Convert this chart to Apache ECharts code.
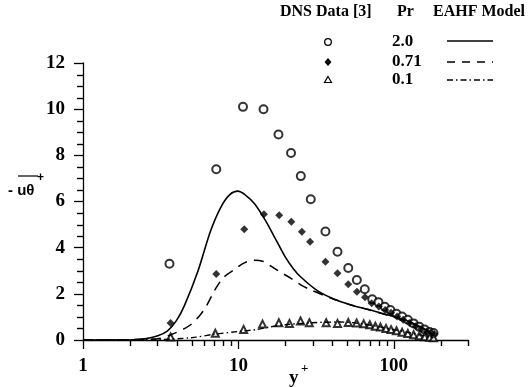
<!DOCTYPE html>
<html>
<head>
<meta charset="utf-8">
<script src="https://cdn.jsdelivr.net/npm/echarts@6/dist/echarts.min.js"></script>
<style>
  html, body { margin: 0; padding: 0; background: #fff; }
  #main { width: 529px; height: 387px; }
</style>
</head>
<body>
<div id="main"></div>
<script>
// DNS data [3], [y+, -uθ+]
var dnsPr20 = [[3.6, 3.3], [7.2, 7.4], [10.7, 10.1], [14.5, 10.0], [18.1, 8.9], [21.8, 8.1], [25.2, 7.1],
    [29.2, 6.1], [36.3, 4.7], [43.4, 3.82], [50.9, 3.12], [57.8, 2.6], [65, 2.2], [72.6, 1.76], [79.6, 1.64],
    [87.5, 1.44], [95, 1.3], [104, 1.14], [113, 1.02], [123, 0.88], [134, 0.72], [146, 0.57], [158, 0.45],
    [170, 0.35], [180, 0.3]];
var dnsPr071 = [[3.66, 0.74], [7.2, 2.86], [10.9, 4.8], [14.6, 5.45], [18.3, 5.4], [21.9, 5.12], [25.6, 4.69],
    [28.9, 4.26], [36.3, 3.39], [43.4, 2.89], [50.9, 2.41], [57.9, 2.09], [65.2, 1.85], [72, 1.59], [80, 1.45],
    [88, 1.3], [96, 1.18], [105, 1.02], [115, 0.88], [126, 0.74], [138, 0.6], [150, 0.48], [163, 0.37],
    [175, 0.3], [182, 0.26]];
var dnsPr01 = [[3.66, 0.13], [7.1, 0.29], [10.8, 0.46], [14.3, 0.69], [18.2, 0.75], [21.3, 0.72], [25.1, 0.82],
    [28.6, 0.75], [36.7, 0.75], [43.4, 0.72], [50.9, 0.76], [57.6, 0.74], [64, 0.7], [70, 0.66], [76, 0.6],
    [82, 0.56], [89, 0.5], [96, 0.45], [104, 0.4], [113, 0.34], [123, 0.28], [134, 0.23], [146, 0.18],
    [158, 0.14], [170, 0.12], [180, 0.1]];

// EAHF model curves
var modelPr20 = [[1, 0], [2, 0], [2.5, 0.05], [3, 0.17], [3.5, 0.4], [4, 0.85], [4.5, 1.5], [5.5, 3.0],
    [6.6, 4.7], [7.7, 5.75], [8.8, 6.3], [9.9, 6.45], [11, 6.3], [12.7, 5.9], [15, 5.15], [17.1, 4.45],
    [20, 3.6], [22.5, 3.1], [25, 2.75], [32, 2.15], [41, 1.78], [53, 1.52], [68, 1.33], [88, 1.12], [112, 0.92],
    [140, 0.65], [165, 0.4], [180, 0.2]];
var modelPr071 = [[1, 0], [3, 0.05], [3.66, 0.22], [4.9, 0.65], [6, 1.3], [7.1, 2.2], [8, 2.7], [9.4, 3.05],
    [11, 3.35], [12.7, 3.46], [14.5, 3.4], [16.2, 3.2], [18, 3.0], [21.8, 2.67], [25, 2.4], [29.4, 2.16],
    [40, 1.8], [53, 1.52], [68, 1.32], [88, 1.1], [112, 0.9], [140, 0.62], [165, 0.38], [180, 0.2]];
var modelPr01 = [[1, 0], [3, 0.02], [5, 0.1], [7, 0.25], [10, 0.37], [13, 0.45], [16, 0.57], [20, 0.66],
    [30, 0.75], [45, 0.78], [60, 0.72], [80, 0.58], [100, 0.45], [130, 0.3], [160, 0.17], [180, 0.1]];

var prLabels = ['2.0', '0.71', '0.1'];
var xMinorTicks = [2, 3, 4, 5, 6, 7, 8, 9, 20, 30, 40, 50, 60, 70, 80, 90, 200, 300];
var yMinorTicks = [0.5, 1, 1.5, 2.5, 3, 3.5, 4.5, 5, 5.5, 6.5, 7, 7.5, 8.5, 9, 9.5, 10.5, 11, 11.5];

var serif = 'Liberation Serif';
var myChart = echarts.init(document.getElementById('main'));

var option = {
    backgroundColor: '#fff',
    animation: false,
    grid: { left: 83, right: 61, top: 63, bottom: 47 },
    xAxis: {
        type: 'log',
        logBase: 10,
        min: 1,
        max: 300,
        axisLine: { lineStyle: { color: '#000', width: 1.3 } },
        axisTick: { length: 9, lineStyle: { color: '#000', width: 1.3 } },
        splitLine: { show: false },
        axisLabel: { color: '#000', fontFamily: serif, fontWeight: 'bold', fontSize: 19, margin: 17, showMaxLabel: false }
    },
    yAxis: {
        type: 'value',
        min: 0,
        max: 12,
        interval: 2,
        axisLine: { show: true, lineStyle: { color: '#000', width: 1.3 } },
        axisTick: { show: true, length: 9, lineStyle: { color: '#000', width: 1.3 } },
        splitLine: { show: false },
        axisLabel: { color: '#000', fontFamily: serif, fontWeight: 'bold', fontSize: 19, margin: 18 }
    },
    series: [{
        name: 'DNS Pr 2.0', type: 'scatter', data: dnsPr20,
        symbol: 'emptyCircle', symbolSize: 8,
        itemStyle: { color: '#000', borderWidth: 1.3 }
    }, {
        name: 'DNS Pr 0.71', type: 'scatter', data: dnsPr071,
        symbol: 'diamond', symbolSize: 8,
        itemStyle: { color: '#000' }
    }, {
        name: 'DNS Pr 0.1', type: 'scatter', data: dnsPr01,
        symbol: 'emptyTriangle', symbolSize: 7,
        itemStyle: { color: '#000', borderWidth: 1.2 }
    }, {
        name: 'EAHF Pr 2.0', type: 'line', data: modelPr20, smooth: 0.3, showSymbol: false,
        lineStyle: { color: '#000', width: 1.6, type: 'solid' }
    }, {
        name: 'EAHF Pr 0.71', type: 'line', data: modelPr071, smooth: 0.3, showSymbol: false,
        lineStyle: { color: '#000', width: 1.5, type: [10, 7] }
    }, {
        name: 'EAHF Pr 0.1', type: 'line', data: modelPr01, smooth: 0.3, showSymbol: false,
        lineStyle: { color: '#000', width: 1.4, type: [6, 3, 1.5, 3] }
    }]
};

myChart.setOption(option);

var decorations = [
    // legend table
    { type: 'text', left: 280, top: 4, style: { text: 'DNS Data [3]', font: 'bold 16px ' + serif, fill: '#000' } },
    { type: 'text', left: 397, top: 4, style: { text: 'Pr', font: 'bold 16px ' + serif, fill: '#000' } },
    { type: 'text', left: 433, top: 4, style: { text: 'EAHF Model', font: 'bold 16px ' + serif, fill: '#000' } },
    { type: 'text', left: 392, top: 33, style: { text: prLabels[0], font: 'bold 17px ' + serif, fill: '#000' } },
    { type: 'text', left: 392, top: 53, style: { text: prLabels[1], font: 'bold 17px ' + serif, fill: '#000' } },
    { type: 'text', left: 392, top: 71, style: { text: prLabels[2], font: 'bold 17px ' + serif, fill: '#000' } },
    { type: 'circle', shape: { cx: 328, cy: 42, r: 3.3 }, style: { fill: '#fff', stroke: '#000', lineWidth: 1.3 } },
    { type: 'polygon', shape: { points: [[328, 58], [331.5, 62], [328, 66], [324.5, 62]] }, style: { fill: '#000' } },
    { type: 'polygon', shape: { points: [[328, 76.5], [331.5, 82.5], [324.5, 82.5]] }, style: { fill: '#fff', stroke: '#000', lineWidth: 1.2 } },
    { type: 'line', shape: { x1: 447, y1: 41, x2: 493, y2: 41 }, style: { stroke: '#000', lineWidth: 1.6 } },
    { type: 'line', shape: { x1: 447, y1: 62, x2: 493, y2: 62 }, style: { stroke: '#000', lineWidth: 1.4, lineDash: [8, 7] } },
    { type: 'line', shape: { x1: 447, y1: 80, x2: 493, y2: 80 }, style: { stroke: '#000', lineWidth: 1.3, lineDash: [6, 3, 1.5, 3] } },
    // y axis name: - uθ+ with overline
    { type: 'text', left: 8, top: 183, style: { text: '- u\u03b8', font: 'bold 15px Liberation Sans', fill: '#000' } },
    { type: 'line', shape: { x1: 18, y1: 176, x2: 38, y2: 176 }, style: { stroke: '#000', lineWidth: 1.2 } },
    { type: 'text', left: 37, top: 172, style: { text: '+', font: 'bold 12px Liberation Sans', fill: '#000' } },
    // x axis name: y+
    { type: 'text', left: 289, top: 369, style: { text: 'y', font: 'bold 19px ' + serif, fill: '#000' } },
    { type: 'text', left: 301, top: 362, style: { text: '+', font: 'bold 13px ' + serif, fill: '#000' } }
];

// minor ticks, placed through the axis scales
var yZero = myChart.convertToPixel({ yAxisIndex: 0 }, 0);
var xZero = myChart.convertToPixel({ xAxisIndex: 0 }, 1);
xMinorTicks.forEach(function (v) {
    var px = Math.round(myChart.convertToPixel({ xAxisIndex: 0 }, v)) + 0.5;
    decorations.push({
        type: 'line', z: 100,
        shape: { x1: px, y1: yZero, x2: px, y2: yZero + 6 },
        style: { stroke: '#000', lineWidth: 1.4 }
    });
});
yMinorTicks.forEach(function (v) {
    var py = Math.round(myChart.convertToPixel({ yAxisIndex: 0 }, v)) + 0.5;
    decorations.push({
        type: 'line', z: 100,
        shape: { x1: xZero - 6, y1: py, x2: xZero, y2: py },
        style: { stroke: '#000', lineWidth: 1.4 }
    });
});

myChart.setOption({ graphic: decorations });
</script>
</body>
</html>
